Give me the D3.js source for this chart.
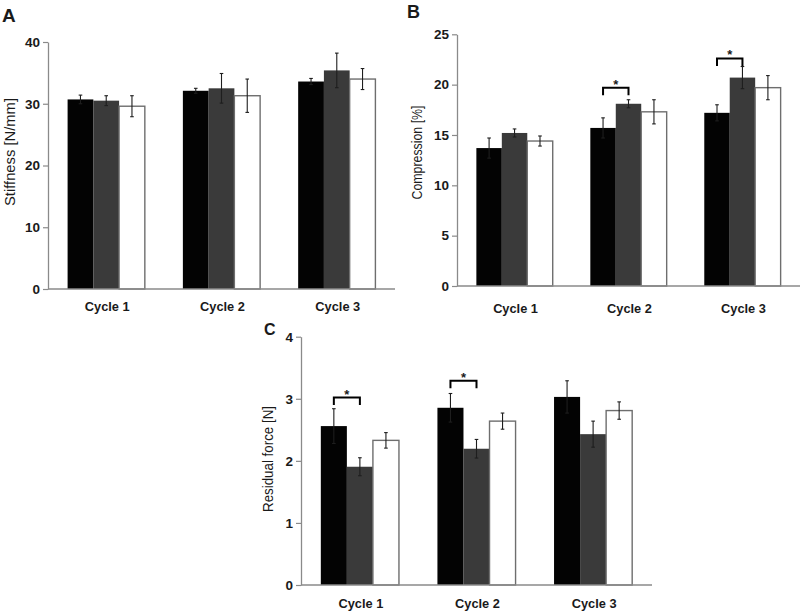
<!DOCTYPE html>
<html>
<head>
<meta charset="utf-8">
<script src="https://cdn.jsdelivr.net/npm/d3@7/dist/d3.min.js"></script>
<style>
  html, body { margin: 0; padding: 0; background: #fff; }
  svg { display: block; }
  text { font-family: "Liberation Sans", Arial, Helvetica, sans-serif; fill: #1a1a1a; }
</style>
</head>
<body>
<svg id="chart" width="803" height="612"></svg>
<script>
// ---------- data ----------
const cycles = ["Cycle 1", "Cycle 2", "Cycle 3"];
const groups = ["black", "grey", "white"];

// Panel A: Stiffness [N/mm]  (one array per group, values per cycle)
const stiffnessBlack = [30.7, 32.1, 33.6];
const stiffnessGrey  = [30.5, 32.5, 35.4];
const stiffnessWhite = [29.6, 31.3, 34.0];
const stiffnessErrBlack = [0.7, 0.4, 0.5];
const stiffnessErrGrey  = [0.8, 2.4, 2.8];
const stiffnessErrWhite = [1.7, 2.7, 1.7];
const stiffnessTicks = [0, 10, 20, 30, 40];

// Panel B: Compression [%]
const compressionBlack = [13.7, 15.7, 17.2];
const compressionGrey  = [15.2, 18.1, 20.7];
const compressionWhite = [14.4, 17.3, 19.7];
const compressionErrBlack = [1.0, 1.0, 0.8];
const compressionErrGrey  = [0.4, 0.4, 1.1];
const compressionErrWhite = [0.5, 1.2, 1.2];
const compressionTicks = [0, 5, 10, 15, 20, 25];
const compressionSig = [ { cycle: "Cycle 2", level: 19.7 }, { cycle: "Cycle 3", level: 22.6 } ];

// Panel C: Residual force [N]
const residualBlack = [2.56, 2.855, 3.03];
const residualGrey  = [1.905, 2.195, 2.43];
const residualWhite = [2.33, 2.64, 2.81];
const residualErrBlack = [0.28, 0.23, 0.26];
const residualErrGrey  = [0.145, 0.15, 0.21];
const residualErrWhite = [0.125, 0.13, 0.14];
const residualTicks = [0, 1, 2, 3, 4];
const residualSig = [ { cycle: "Cycle 1", level: 3.02 }, { cycle: "Cycle 2", level: 3.29 } ];

// ---------- styles ----------
const fillOf   = { black: "#030303", grey: "#3a3a3a", white: "#ffffff" };
const strokeOf = { black: "none",    grey: "none",    white: "#6e6e6e" };

const svg = d3.select("#chart");

function drawPanel(cfg) {
  const g = svg.append("g");
  const x = d3.scaleBand().domain(cycles).range(cfg.xRange).paddingInner(0.33).paddingOuter(0.17);
  const xi = d3.scaleBand().domain(groups).range([0, x.bandwidth()]);
  const y = d3.scaleLinear().domain(cfg.yDomain).range(cfg.yRange);

  const rows = [];
  groups.forEach((grp, gi) => {
    cycles.forEach((c, ci) => {
      rows.push({ grp, cycle: c, mean: cfg.means[gi][ci], err: cfg.errs[gi][ci] });
    });
  });

  // bars
  g.selectAll("rect.bar").data(rows).join("rect")
    .attr("class", "bar")
    .attr("x", d => x(d.cycle) + xi(d.grp))
    .attr("width", xi.bandwidth())
    .attr("y", d => y(d.mean))
    .attr("height", d => y(0) - y(d.mean))
    .attr("fill", d => fillOf[d.grp])
    .attr("stroke", d => strokeOf[d.grp])
    .attr("stroke-width", 1.4);

  // error bars
  const eb = g.selectAll("g.err").data(rows).join("g").attr("class", "err")
    .attr("stroke", "#1e1e1e").attr("stroke-width", 1.1);
  const cx = d => x(d.cycle) + xi(d.grp) + xi.bandwidth() / 2;
  eb.append("line").attr("x1", cx).attr("x2", cx)
    .attr("y1", d => y(d.mean - d.err)).attr("y2", d => y(d.mean + d.err));
  eb.append("line").attr("x1", d => cx(d) - 1.8).attr("x2", d => cx(d) + 1.8)
    .attr("y1", d => y(d.mean + d.err)).attr("y2", d => y(d.mean + d.err));
  eb.append("line").attr("x1", d => cx(d) - 1.8).attr("x2", d => cx(d) + 1.8)
    .attr("y1", d => y(d.mean - d.err)).attr("y2", d => y(d.mean - d.err));

  // significance brackets (black vs grey)
  (cfg.sig || []).forEach(s => {
    const x0 = x(s.cycle) + xi("black") + xi.bandwidth() / 2;
    const x1 = x(s.cycle) + xi("grey") + xi.bandwidth() / 2;
    const yy = y(s.level);
    g.append("path")
      .attr("d", `M${x0},${yy + 7.5}V${yy}H${x1}V${yy + 7.5}`)
      .attr("fill", "none").attr("stroke", "#000").attr("stroke-width", 2);
    g.append("text").attr("x", (x0 + x1) / 2).attr("y", yy + 1)
      .attr("text-anchor", "middle").attr("font-size", 13).attr("font-weight", "bold")
      .text("*");
  });

  // y axis
  const ya = g.append("g").attr("transform", `translate(${cfg.xRange[0]},0)`)
    .call(d3.axisLeft(y).tickValues(cfg.ticks).tickFormat(d3.format("d"))
      .tickSize(5).tickSizeOuter(0).tickPadding(3));
  ya.select(".domain").attr("stroke", "#8a8a8a").attr("stroke-width", 1.3);
  ya.selectAll(".tick line").attr("stroke", "#8a8a8a").attr("stroke-width", 1.2);
  ya.selectAll(".tick text").attr("font-size", 13.5).attr("font-weight", "bold")
    .attr("font-family", "Liberation Sans, Arial, sans-serif").attr("fill", "#1a1a1a");

  // x axis line
  g.append("line").attr("x1", cfg.xRange[0]).attr("x2", cfg.xRange[1])
    .attr("y1", y(0)).attr("y2", y(0))
    .attr("stroke", "#8a8a8a").attr("stroke-width", 1.3);

  // x labels
  g.selectAll("text.xl").data(cycles).join("text").attr("class", "xl")
    .attr("x", c => x(c) + x.bandwidth() / 2 + 1)
    .attr("y", y(0) + cfg.xLabelOffset)
    .attr("text-anchor", "middle").attr("font-size", 12.8).attr("font-weight", "bold")
    .text(c => c);

  // y title
  g.append("text")
    .attr("transform", `translate(${cfg.title.x},${cfg.title.y}) rotate(-90)`)
    .attr("text-anchor", "middle").attr("dominant-baseline", "central")
    .attr("font-size", 14)
    .attr("textLength", cfg.title.len).attr("lengthAdjust", "spacingAndGlyphs")
    .text(cfg.title.text);

  // panel letter
  g.append("text").attr("x", cfg.letter.x).attr("y", cfg.letter.y)
    .attr("font-size", cfg.letter.size).attr("font-weight", "bold")
    .text(cfg.letter.text);
}

drawPanel({
  xRange: [48, 395], yDomain: [0, 40], yRange: [289, 42], ticks: stiffnessTicks,
  means: [stiffnessBlack, stiffnessGrey, stiffnessWhite],
  errs: [stiffnessErrBlack, stiffnessErrGrey, stiffnessErrWhite],
  xLabelOffset: 22,
  title: { text: "Stiffness [N/mm]", x: 9.5, y: 152, len: 108 },
  letter: { text: "A", x: 2, y: 22, size: 19 }
});

drawPanel({
  xRange: [457, 800], yDomain: [0, 25], yRange: [286, 34.3], ticks: compressionTicks,
  means: [compressionBlack, compressionGrey, compressionWhite],
  errs: [compressionErrBlack, compressionErrGrey, compressionErrWhite],
  sig: compressionSig,
  xLabelOffset: 26.5,
  title: { text: "Compression [%]", x: 416.5, y: 152.5, len: 94 },
  letter: { text: "B", x: 407, y: 18, size: 18 }
});

drawPanel({
  xRange: [301, 652], yDomain: [0, 4], yRange: [585, 336.7], ticks: residualTicks,
  means: [residualBlack, residualGrey, residualWhite],
  errs: [residualErrBlack, residualErrGrey, residualErrWhite],
  sig: residualSig,
  xLabelOffset: 22.5,
  title: { text: "Residual force [N]", x: 267.5, y: 459, len: 106 },
  letter: { text: "C", x: 264, y: 334.5, size: 16 }
});
</script>
</body>
</html>
